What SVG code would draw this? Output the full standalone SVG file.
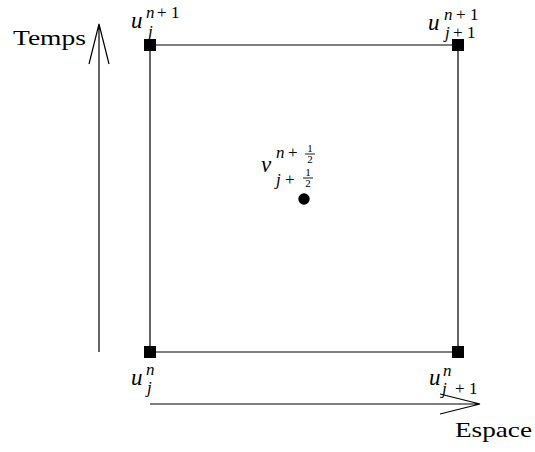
<svg xmlns="http://www.w3.org/2000/svg" width="535" height="452" viewBox="0 0 535 452">
<style>
.ln{stroke:#000;stroke-width:1.2;fill:none}
.v{font-family:"Liberation Serif",serif;font-style:italic;font-size:23px}
.s{font-family:"Liberation Serif",serif;font-style:italic;font-size:17px}
.r{font-family:"Liberation Serif",serif;font-size:17px}
.f{font-family:"Liberation Serif",serif;font-size:11px}
.t{font-family:"Liberation Serif",serif;font-size:21px}
.bar{stroke:#000;stroke-width:0.9}
</style>
<rect width="535" height="452" fill="#fff"/>
<g id="connectors">
<path class="ln" d="M150,45H458V352H150Z"/>
<path class="ln" d="M99,352V24M89,64L99,24L109,64"/>
<path class="ln" d="M150,404H480M440,394L480,404L440,414"/>
</g>
<g id="n_j_np1"><rect x="144" y="39" width="12" height="12"/>
<text class="v" x="131" y="28">u</text><text class="s" x="146" y="18">n</text><text class="r" x="157" y="18">+</text><text class="r" x="171" y="18">1</text><text class="s" x="148" y="37">j</text></g>
<g id="n_jp1_np1"><rect x="452" y="39" width="12" height="12"/>
<text class="v" x="428" y="30">u</text><text class="s" x="444" y="20">n</text><text class="r" x="456" y="20">+</text><text class="r" x="470" y="20">1</text><text class="s" x="445" y="38">j</text><text class="r" x="453" y="38">+</text><text class="r" x="467" y="38">1</text></g>
<g id="n_j_n"><rect x="144" y="346" width="12" height="12"/>
<text class="v" x="131" y="385">u</text><text class="s" x="146" y="375">n</text><text class="s" x="147" y="393">j</text></g>
<g id="n_jp1_n"><rect x="452" y="346" width="12" height="12"/>
<text class="v" x="429" y="385">u</text><text class="s" x="443" y="376">n</text><text class="s" x="442" y="394">j</text><text class="r" x="455" y="394">+</text><text class="r" x="469" y="394">1</text></g>
<g id="center"><circle cx="304" cy="199" r="5.7"/>
<text class="v" x="261" y="172">v</text><text class="s" x="276" y="158">n</text><text class="r" x="288" y="158">+</text>
<text class="f" x="310" y="152" text-anchor="middle">1</text><path class="bar" d="M305,154H315"/><text class="f" x="310" y="163" text-anchor="middle">2</text>
<text class="s" x="276" y="185">j</text><text class="r" x="285" y="185">+</text>
<text class="f" x="308" y="176" text-anchor="middle">1</text><path class="bar" d="M303,178H313"/><text class="f" x="308" y="187" text-anchor="middle">2</text></g>
<g id="labels"><text class="t" x="13" y="45" textLength="73" lengthAdjust="spacingAndGlyphs">Temps</text><text class="t" x="455" y="437" textLength="77" lengthAdjust="spacingAndGlyphs">Espace</text></g>
</svg>
